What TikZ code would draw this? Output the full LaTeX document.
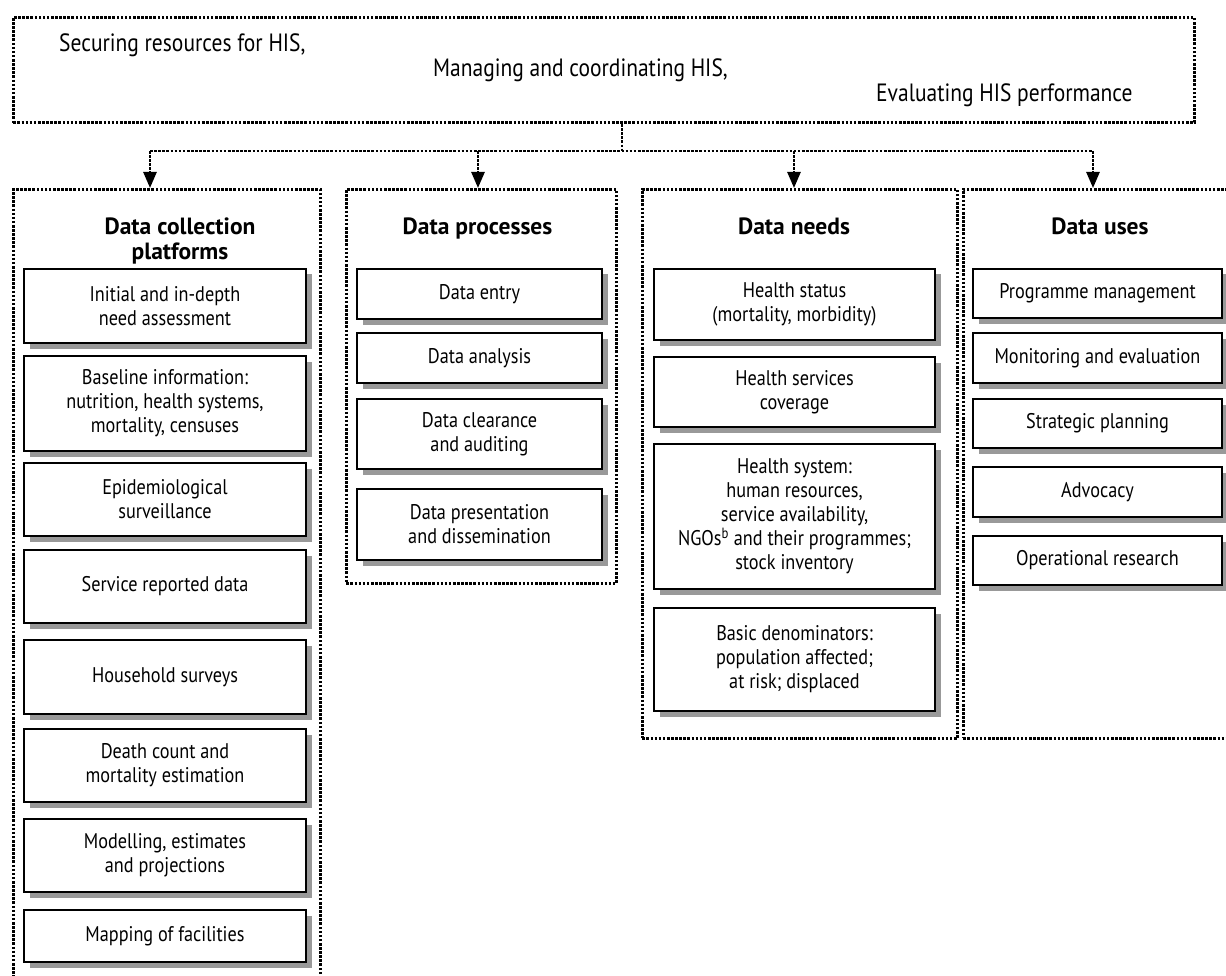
\documentclass[tikz,border=0pt]{standalone}
\usepackage{fontspec}
\setmainfont{PT Sans}[FakeStretch=0.86]
\newfontfamily\titlefont{PT Sans}
\usetikzlibrary{arrows.meta}
\tikzset{
  dotline/.style={line width=2.6pt, dash pattern=on 2.6pt off 1.5pt, draw=black},
  dotframe/.style={dotline, rectangle, inner sep=0pt, anchor=north west},
  ibox/.style={draw=black, line width=1.5pt, fill=white, rectangle, inner sep=0pt, align=center,
    font=\fontsize{21.2pt}{24pt}\selectfont,
    preaction={fill=black!40, transform canvas={xshift=5.5pt, yshift=-5.5pt}}},
  c1/.style={ibox, minimum width=282pt},
  c2/.style={ibox, minimum width=245pt},
  c3/.style={ibox, minimum width=281pt},
  c4/.style={ibox, minimum width=249pt},
  ttl/.style={font=\titlefont\bfseries\fontsize{23.5pt}{25pt}\selectfont, align=center, inner sep=0pt},
  toptext/.style={font=\fontsize{25pt}{28pt}\selectfont, anchor=base west, inner sep=0pt},
  arr/.style={dotline, -{Triangle[width=13pt,length=16pt]}},
}
\begin{document}
\begin{tikzpicture}[x=1pt,y=-1pt]
\useasboundingbox (0,0) rectangle (1226,976);
\clip (0,0) rectangle (1226,976);
% top box
\node[dotframe, minimum width=1181pt, minimum height=105.5pt] (top) at (12,16) {};
\node[toptext] (t1) at (59,52) {Securing resources for HIS,};
\node[toptext] (t2) at (433,77) {Managing and coordinating HIS,};
\node[toptext] (t3) at (876,102) {Evaluating HIS performance};
% columns
\node[dotframe, minimum width=307pt, minimum height=810pt] (col1) at (12,188) {};
\node[dotframe, minimum width=270pt, minimum height=394pt] (col2) at (345,188) {};
\node[dotframe, minimum width=315pt, minimum height=549pt] (col3) at (641,188) {};
\node[dotframe, minimum width=280pt, minimum height=549pt] (col4) at (962,188) {};
% connectors
\coordinate (j) at (622,151);
\coordinate (a1) at (150,151);
\coordinate (a2) at (478,151);
\coordinate (a3) at (794,151);
\coordinate (a4) at (1093,151);
\draw[dotline] (top.south -| j) -- (j);
\draw[dotline] (a1) -- (a4);
\draw[arr] (a1) -- (a1 |- col1.north);
\draw[arr] (a2) -- (a2 |- col2.north);
\draw[arr] (a3) -- (a3 |- col3.north);
\draw[arr] (a4) -- (a4 |- col4.north);
% titles
\node[ttl] (h1) at (180,241) {Data collection\\platforms};
\node[ttl, anchor=base] (h2) at (477.5,235) {Data processes};
\node[ttl, anchor=base] (h3) at (794,235) {Data needs};
\node[ttl, anchor=base] (h4) at (1100,235) {Data uses};
% column 1
\node[c1, minimum height=74pt] (p1) at (165,306) {Initial and in-depth\\need assessment};
\node[c1, minimum height=95pt] (p2) at (165,403.5) {Baseline information:\\nutrition, health systems,\\mortality, censuses};
\node[c1, minimum height=73pt] (p3) at (165,499.5) {Epidemiological\\surveillance};
\node[c1, minimum height=73pt] (p4) at (165,586.5) {Service reported data};
\node[c1, minimum height=74pt] (p5) at (165,677) {Household surveys};
\node[c1, minimum height=73pt] (p6) at (165,765.5) {Death count and\\mortality estimation};
\node[c1, minimum height=73pt] (p7) at (165,855.5) {Modelling, estimates\\and projections};
\node[c1, minimum height=52pt] (p8) at (165,936) {Mapping of facilities};
% column 2
\node[c2, minimum height=50pt] (q1) at (479.5,294) {Data entry};
\node[c2, minimum height=50pt] (q2) at (479.5,358) {Data analysis};
\node[c2, minimum height=70pt] (q3) at (479.5,434) {Data clearance\\and auditing};
\node[c2, minimum height=71pt] (q4) at (479.5,524.5) {Data presentation\\and dissemination};
% column 3
\node[c3, minimum height=71pt] (n1) at (794.5,304.5) {Health status\\(mortality, morbidity)};
\node[c3, minimum height=70pt] (n2) at (794.5,392) {Health services\\coverage};
\node[c3, minimum height=145pt] (n3) at (794.5,516.5) {Health system:\\human resources,\\service availability,\\NGOs\textsuperscript{b} and their programmes;\\stock inventory};
\node[c3, minimum height=103pt] (n4) at (794.5,659.5) {Basic denominators:\\population affected;\\at risk; displaced};
% column 4
\node[c4, minimum height=49pt] (u1) at (1097.5,293.5) {Programme management};
\node[c4, minimum height=50pt] (u2) at (1097.5,358) {Monitoring and evaluation};
\node[c4, minimum height=49pt] (u3) at (1097.5,423.5) {Strategic planning};
\node[c4, minimum height=50pt] (u4) at (1097.5,492) {Advocacy};
\node[c4, minimum height=49pt] (u5) at (1097.5,560.5) {Operational research};
\end{tikzpicture}
\end{document}
